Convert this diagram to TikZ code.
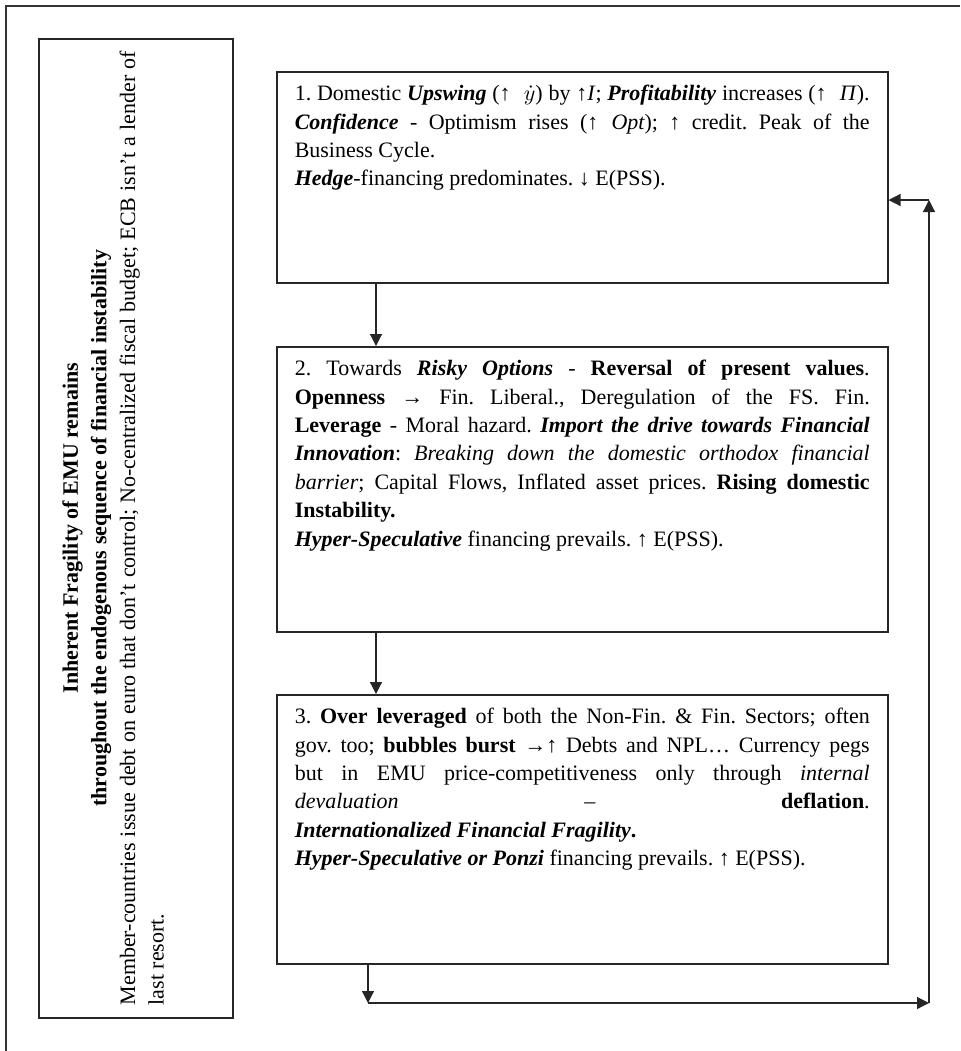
\documentclass[tikz,border=0pt]{standalone}
\usepackage{fontspec}
\setmainfont{Liberation Serif}
\usetikzlibrary{arrows.meta, positioning, calc}
\frenchspacing

\begin{document}
\begin{tikzpicture}[
        x=0.5pt, y=-0.5pt,
        line/.style={line width=0.6pt, draw=black!85},
        arr/.style={line, -{Triangle[length=6pt, width=6pt]}},
        frame/.style={line width=0.8pt, draw=black!80},
        stage/.style={draw=black!85, line width=0.75pt, anchor=north west,
                      inner xsep=9pt, inner ysep=6pt, text width=287.5pt,
                      align=justify, text height=8.5pt,
                      font=\fontsize{11}{14.2}\selectfont},
        sidebox/.style={draw=black!85, line width=0.75pt, anchor=north west,
                        inner sep=0pt, minimum width=97pt, minimum height=489.5pt},
        sidetext/.style={rotate=90, anchor=north, inner sep=0pt, text width=477pt,
                         align=justify, font=\fontsize{11}{14.3}\selectfont}
    ]
        \useasboundingbox (0,0) rectangle (960,1051);

        % outer frame (only top and left edges are visible)
        \draw[frame] (6,1051) -- (6,6) -- (960,6);

        % side box with rotated text
        \node[sidebox] (side) at (38,38) {};
        \node[sidetext] (sidetxt) at ($(side.west)+(24,0)$)
            {{\centering\bfseries Inherent Fragility of EMU remains\\
              throughout the endogenous sequence of financial instability\par}
             Member-countries issue debt on euro that don’t control; No-centralized fiscal budget; ECB isn’t a lender of\linebreak
             last resort.};

        % stages of the cycle
        \node[stage, text depth=85pt] (s1) at (276,71)
            {1. Domestic \textbf{\textit{Upswing}} (↑\hspace{0.6em}$\dot{y}$) by ↑\textit{I}; \textbf{\textit{Profitability}} increases (↑\hspace{0.6em}\textit{Π}).\linebreak
             \textbf{\textit{Confidence}} - Optimism rises (↑\hspace{0.6em}$\mathit{Opt}$); ↑ credit. Peak of the\linebreak
             Business Cycle.\\
             \textbf{\textit{Hedge}}-financing predominates. ↓ E(PSS).};
        \node[stage, text depth=122pt] (s2) at (276,346)
            {2. Towards \textbf{\textit{Risky Options}} - \textbf{Reversal of present values}.\linebreak
             \textbf{Openness} → Fin. Liberal., Deregulation of the FS. Fin.\linebreak
             \textbf{Leverage} - Moral hazard. \textbf{\textit{Import the drive towards Financial}}\linebreak
             \textbf{\textit{Innovation}}: \textit{Breaking down the domestic orthodox financial}\linebreak
             \textit{barrier}; Capital Flows, Inflated asset prices. \textbf{Rising domestic}\linebreak
             \textbf{Instability.}\\
             \textbf{\textit{Hyper-Speculative}} financing prevails. ↑ E(PSS).};
        \node[stage, text depth=114pt] (s3) at (276,694)
            {3. \textbf{Over leveraged} of both the Non-Fin. \& Fin. Sectors; often\linebreak
             gov. too; \textbf{bubbles burst} →↑ Debts and NPL… Currency pegs\linebreak
             but in EMU price-competitiveness only through \textit{internal}\linebreak
             \textit{devaluation} – \textbf{deflation}.\linebreak
             \textbf{\textit{Internationalized Financial Fragility}}\textbf{.}\\
             \textbf{\textit{Hyper-Speculative or Ponzi}} financing prevails. ↑ E(PSS).};

        % downward flow between stages
        \coordinate (k1) at (376,0);
        \coordinate (k2) at (368,0);
        \draw[arr] (s1.south -| k1) -- (s2.north -| k1);
        \draw[arr] (s2.south -| k1) -- (s3.north -| k1);

        % return loop: down, right, up, left back to stage 1
        \coordinate (b1) at (368,1003);
        \coordinate (b2) at (929,1003);
        \coordinate (b3) at (929,200);
        \draw[arr] (s3.south -| k2) -- (b1);
        \draw[arr] (b1) -- (b2);
        \draw[arr] (b2) -- (b3);
        \draw[arr] (b3) -- (s1.east |- b3);
    \end{tikzpicture}
\end{document}
